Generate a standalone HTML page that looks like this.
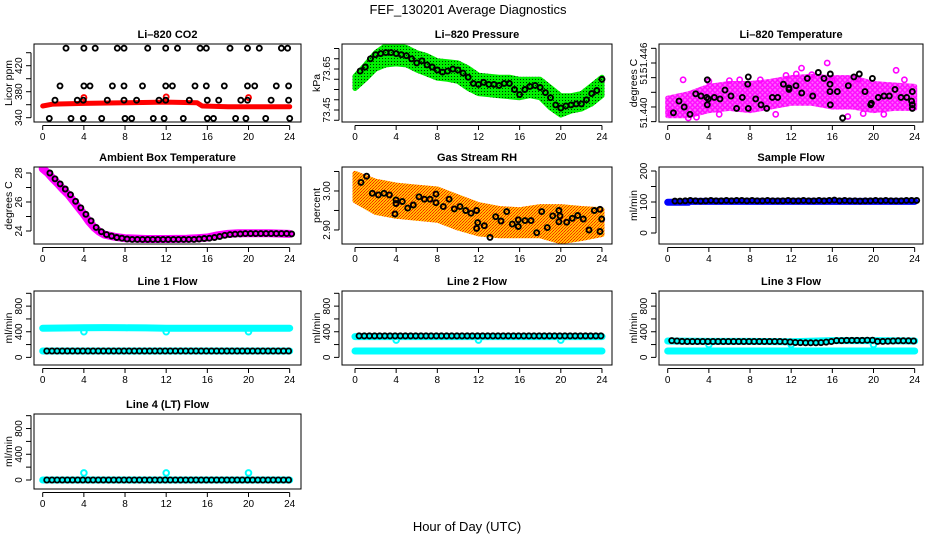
<!DOCTYPE html>
<html><head><meta charset="utf-8"><title>FEF_130201 Average Diagnostics</title>
<style>
html,body{margin:0;padding:0;background:#fff;}
svg{display:block;font-family:"Liberation Sans",Arial,sans-serif;}
</style></head>
<body>
<svg id="chart" width="936" height="540" viewBox="0 0 936 540" xmlns="http://www.w3.org/2000/svg">
<defs>
<pattern id="pGreen" width="3" height="3" patternUnits="userSpaceOnUse"><rect width="3" height="3" fill="#00ee00"/><rect x="1" y="1" width="1" height="1" fill="#003300"/></pattern>
<pattern id="pOrange" width="3" height="3" patternUnits="userSpaceOnUse"><rect width="3" height="3" fill="#ffc000"/><rect width="1" height="1" fill="#ff2000"/><rect x="2" y="1" width="1" height="1" fill="#ff4000"/><rect x="1" y="2" width="1" height="1" fill="#ff2000"/></pattern>
<pattern id="pMag" width="5" height="5" patternUnits="userSpaceOnUse"><rect width="5" height="5" fill="#ff66ff"/><circle cx="2.5" cy="2.5" r="1.8" fill="none" stroke="#ff00ff" stroke-width="1.3"/></pattern>
</defs>
<text x="468" y="14" font-size="13" text-anchor="middle">FEF_130201  Average Diagnostics</text>
<text x="467" y="531" font-size="13" text-anchor="middle">Hour of Day (UTC)</text>
</svg>
<script>
// ---- shared hours ----
const H48 = [0.5,1,1.5,2,2.5,3,3.5,4,4.5,5,5.5,6,6.5,7,7.5,8,8.5,9,9.5,10,10.5,11,11.5,12,12.5,13,13.5,14,14.5,15,15.5,16,16.5,17,17.5,18,18.5,19,19.5,20,20.5,21,21.5,22,22.5,23,23.5,24];
const xTicks = [0,4,8,12,16,20,24];

// ---- CO2 ----
const co2BandH = [0,1,4,8,12,15,15.5,18,20,24];
const co2BandV = [358,361,362,363,364,363,358,357,357,357];
const co2H = [2.26,4.0,5.1,7.25,7.9,10.2,11.95,13.1,15.3,15.9,18.2,19.9,21.05,23.2,23.8,
  1.68,4.0,4.6,6.77,7.9,9.7,11.95,12.6,14.8,15.9,17.65,19.9,20.6,22.7,23.9,
  1.2,3.36,3.95,6.28,7.9,9.13,11.3,11.95,14.25,16.0,17.1,19.25,19.9,22.2,23.9,
  0.64,2.75,3.95,5.73,8.0,8.65,10.75,11.8,13.66,16.0,16.6,18.75,19.75,21.67,24.0];
const co2V = [447,447,447,447,447,447,447,447,447,447,447,447,447,447,447,
  389,389,389,389,389,389,389,389,389,389,389,389,389,389,389,
  367,367,367,367,367,367,367,367,367,367,367,367,367,367,367,
  339,339,339,339,339,339,339,339,339,339,339,339,339,339,339];
const co2RedOutH = [4,12,20];
const co2RedOutV = [371,372,371];

// ---- Pressure ----
const presBandH = [0,1,2,3,4,5,6,7,8,9,10,11,12,13,14,15,16,17,18,19,20,21,22,23,24];
const presUpper = [73.615,73.67,73.73,73.765,73.765,73.755,73.73,73.715,73.69,73.685,73.68,73.655,73.62,73.615,73.61,73.61,73.6,73.6,73.6,73.56,73.52,73.52,73.53,73.57,73.61];
const presLower = [73.555,73.6,73.65,73.67,73.675,73.67,73.645,73.625,73.605,73.6,73.59,73.555,73.53,73.525,73.52,73.515,73.51,73.52,73.51,73.46,73.425,73.445,73.455,73.48,73.52];
const presV = [73.64,73.66,73.70,73.72,73.725,73.73,73.73,73.725,73.72,73.715,73.70,73.68,73.69,73.67,73.66,73.645,73.635,73.64,73.65,73.645,73.63,73.61,73.58,73.575,73.585,73.575,73.575,73.57,73.58,73.58,73.55,73.525,73.55,73.565,73.57,73.56,73.535,73.51,73.475,73.46,73.47,73.475,73.48,73.48,73.50,73.53,73.545,73.60];

// ---- Li-820 Temperature ----
const tempBandH = [0,2,4,6,8,10,12,14,16,18,20,22,24];
const tempUpper = [51.4412,51.4418,51.4428,51.4432,51.4432,51.4435,51.4440,51.4442,51.4440,51.4440,51.4432,51.4430,51.4428];
const tempLower = [51.4388,51.4388,51.4395,51.4398,51.4395,51.4400,51.4405,51.4405,51.4400,51.4400,51.4395,51.4398,51.4398];
const tempOutH = [1.5,13,15.5,22.2,16,11.5,4,10.5,2,0.3,7,18.5,21,2.8,5,9,14,19,23,6,12.5,17.5];
const tempOutV = [51.4437,51.4453,51.4460,51.4450,51.4436,51.4443,51.4435,51.4390,51.4385,51.4392,51.4437,51.4438,51.4390,51.4386,51.4390,51.4437,51.4444,51.4391,51.4437,51.4436,51.4445,51.4387];
const tempH = [0.55,1.1,1.6,2.17,2.72,3.24,3.79,3.85,3.95,3.85,4.53,5.08,5.57,6.15,6.7,7.25,7.77,7.83,7.83,8.55,9.07,9.62,10.17,10.69,11.24,11.79,11.79,12.47,13.02,13.57,14.09,14.64,15.19,15.77,15.77,15.8,15.8,16.48,17.0,17.55,18.1,18.62,19.17,19.73,19.8,19.89,20.47,21.02,21.54,22.09,22.67,23.23,23.77,23.77,23.77,23.7];
const tempV = [51.4392,51.4408,51.4400,51.4390,51.4418,51.4415,51.4413,51.4403,51.4411,51.4437,51.4413,51.4411,51.4423,51.4415,51.4398,51.4413,51.4431,51.4441,51.4398,51.4411,51.4403,51.4398,51.4413,51.4413,51.4431,51.4424,51.4426,51.4429,51.4419,51.4439,51.4415,51.4447,51.4439,51.4421,51.4431,51.4445,51.4403,51.4421,51.4385,51.4429,51.4441,51.4445,51.4421,51.4403,51.4405,51.4439,51.4413,51.4415,51.4415,51.4424,51.4413,51.4413,51.4403,51.4398,51.4421,51.4408];

// ---- Ambient ----
const ambBandH = [0,0.5,1,1.5,2,2.5,3,3.5,4,4.5,5,5.5,6,7,8,10,12,14,15,16,17,18,19,20,22,24];
const ambBandV = [28.3,28.0,27.6,27.25,26.85,26.5,26.05,25.6,25.15,24.65,24.25,23.95,23.75,23.6,23.5,23.45,23.45,23.47,23.5,23.55,23.7,23.8,23.85,23.85,23.85,23.8];
const ambV = [28.0,27.6,27.25,26.9,26.5,26.05,25.6,25.15,24.7,24.25,23.95,23.75,23.65,23.55,23.5,23.45,
  23.42,23.42,23.42,23.42,23.42,23.42,23.42,23.42,23.42,23.42,23.42,23.42,23.42,
  23.45,23.48,23.5,23.55,23.62,23.7,23.75,23.78,23.8,23.82,23.82,
  23.82,23.82,23.82,23.82,23.82,23.82,23.82,23.8];

// ---- RH ----
const rhBandH = [0,2,4,6,8,10,12,14,16,18,20,22,24];
const rhUpper = [3.045,3.025,3.015,3.01,3.005,2.985,2.965,2.955,2.952,2.96,2.96,2.955,2.952];
const rhLower = [2.975,2.945,2.935,2.93,2.925,2.905,2.89,2.885,2.885,2.885,2.87,2.878,2.888];
const rhH = [0.58,1.13,1.68,2.27,2.82,3.34,3.98,3.98,3.89,4.6,5.12,5.67,6.22,6.74,7.29,7.87,7.87,8.58,9.14,9.65,10.2,10.76,11.27,11.82,11.92,11.82,12.57,13.12,13.67,14.19,14.74,15.29,15.87,15.87,16.52,17.1,17.66,18.14,18.69,19.21,19.82,19.82,19.92,20.57,21.12,21.64,22.19,22.74,23.26,23.81,23.97,23.81];
const rhV = [3.022,3.038,2.994,2.990,2.994,2.990,2.977,2.968,2.941,2.973,2.956,2.964,2.985,2.979,2.979,2.992,2.970,2.960,2.979,2.954,2.960,2.950,2.943,2.950,2.919,2.904,2.911,2.881,2.934,2.923,2.947,2.915,2.926,2.909,2.924,2.924,2.893,2.947,2.906,2.936,2.921,2.950,2.936,2.920,2.930,2.937,2.928,2.900,2.950,2.953,2.928,2.896];

// ---- Sample flow ----
const sfBandH = [0,2,2.05,4,8,12,16,20,24];
const sfBandV = [99,99,102,102,102,102,102,102,102];
const sfV = [103,103,104,105,104,103,104,105,104,104,105,104,105,105,104,105,104,104,105,104,104,104,105,104,104,105,104,104,105,104,105,106,104,105,104,104,103,104,104,105,104,105,104,104,104,105,105,105];

// ---- Line flows ----
const l1CyanHiH = [0,2,4,6,8,10,12,14,16,18,20,22,24];
const l1CyanHiV = [455,458,462,465,462,460,456,455,455,455,455,455,455];
const l1CyanLoH = [0,24];
const l1CyanLoV = [100,100];
const l1OutH = [4,12,20];
const l1OutV = [400,400,400];
const l1V = [100,100,100,100,100,100,100,100,100,100,100,100,100,100,100,100,100,100,100,100,100,100,100,100,100,100,100,100,100,100,100,100,100,100,100,100,100,100,100,100,100,100,100,100,100,100,100,100];

const l2CyanHiH = [0,24];
const l2CyanHiV = [325,325];
const l2CyanLoH = [0,24];
const l2CyanLoV = [100,100];
const l2OutH = [4,12,20];
const l2OutV = [270,270,270];
const l2V = [335,335,335,335,335,335,335,335,335,335,335,335,335,335,335,335,335,335,335,335,335,335,335,335,335,335,335,335,335,335,335,335,335,335,335,335,335,335,335,335,335,335,335,335,335,335,335,335];

const l3CyanHiH = [0,4,8,12,16,20,24];
const l3CyanHiV = [255,250,250,245,262,262,255];
const l3CyanLoH = [0,24];
const l3CyanLoV = [100,100];
const l3OutH = [4,12,20];
const l3OutV = [200,200,200];
const l3V = [262,255,250,248,248,248,248,248,248,248,248,248,248,248,248,248,248,248,248,248,248,248,245,240,232,230,228,228,228,230,238,248,262,262,265,265,265,265,268,268,250,250,252,255,258,258,258,255];

const l4CyanLoH = [0,24];
const l4CyanLoV = [0,0];
const l4OutH = [4,12,20];
const l4OutV = [110,110,110];
const l4V = [0,0,0,0,0,0,0,0,0,0,0,0,0,0,0,0,0,0,0,0,0,0,0,0,0,0,0,0,0,0,0,0,0,0,0,0,0,0,0,0,0,0,0,0,0,0,0,0];

// ---- layout ----
const NS = 'http://www.w3.org/2000/svg';
const svg = document.getElementById('chart');
const BL = [34,342,659], BR = [301,612,923];
const BT = [44,167,291,414], BB = [122,244,365,489];
const X0 = [42.7,355,667.7];
const PXH = 10.29;

function el(tag, attrs, parent){
  const e = document.createElementNS(NS, tag);
  for (const k in attrs) e.setAttribute(k, attrs[k]);
  (parent||svg).appendChild(e);
  return e;
}

function makePanel(col,row,name,title,ylab,lo,hi,yTicks,yLabV,yLabT){
  const L=BL[col],R=BR[col],T=BT[row],B=BB[row];
  const g = el('g',{});
  
  
  const xs = h => X0[col] + h*PXH;
  const ys = v => B - (v-lo)/(hi-lo)*(B-T);
  const t = el('text',{x:(L+R)/2,y:T-6,'font-size':11,'font-weight':'bold','text-anchor':'middle'},g);
  t.textContent = title;
  
  
  const yl = el('text',{x:L-22,y:(T+B)/2,'font-size':10.5,'text-anchor':'middle',transform:`rotate(-90 ${L-22} ${(T+B)/2})`},g);
  yl.textContent = ylab;
  
  
  const xa = el('g',{stroke:'#000','stroke-width':1},g);
  
  
  el('line',{x1:xs(xTicks[0]),x2:xs(xTicks[xTicks.length-1]),y1:B+3.5,y2:B+3.5},xa);
  xTicks.forEach(h=>{
    el('line',{x1:xs(h),x2:xs(h),y1:B+3.5,y2:B+8},xa);
    const tl = el('text',{x:xs(h),y:B+18,'font-size':10,'text-anchor':'middle',stroke:'none'},g);
    tl.textContent = h;
    
    
  });
  const ya = el('g',{stroke:'#000','stroke-width':1},g);
  
  
  el('line',{x1:L-3,x2:L-3,y1:ys(yTicks[0]),y2:ys(yTicks[yTicks.length-1])},ya);
  yTicks.forEach(v=>{ el('line',{x1:L-3,x2:L-8,y1:ys(v),y2:ys(v)},ya); });
  yLabV.forEach((v,i)=>{
    const yy = ys(v);
    const tl = el('text',{x:L-12,y:yy,'font-size':10,'text-anchor':'middle',transform:`rotate(-90 ${L-12} ${yy})`},g);
    tl.textContent = yLabT[i];
    
    
  });
  const clip = 'clip-'+name;
  const cp = el('clipPath',{id:clip},g);
  el('rect',{x:L,y:T,width:R-L,height:B-T},cp);
  const plot = el('g',{'clip-path':`url(#${clip})`},g);
  
  
  const box = el('rect',{x:L,y:T,width:R-L,height:B-T,fill:'none',stroke:'#000','stroke-width':1},g);
  
  
  return {xs,ys,plot,name};
}

function band(p,hs,up,lowv,fill,nm){
  let d='';
  hs.forEach((h,i)=>{ d += (i?'L':'M')+p.xs(h).toFixed(1)+','+p.ys(up[i]).toFixed(1); });
  for(let i=hs.length-1;i>=0;i--) d += 'L'+p.xs(hs[i]).toFixed(1)+','+p.ys(lowv[i]).toFixed(1);
  const e = el('path',{d:d+'Z',fill:fill,stroke:fill,'stroke-width':5,'stroke-linejoin':'round'},p.plot);
  
  
}
function thick(p,hs,vs,color,w,nm){
  const pts = hs.map((h,i)=>p.xs(h).toFixed(1)+','+p.ys(vs[i]).toFixed(1)).join(' ');
  const e = el('polyline',{points:pts,fill:'none',stroke:color,'stroke-width':w,'stroke-linecap':'round','stroke-linejoin':'round'},p.plot);
  
  
}
function dots(p,hs,vs,color,nm,r,sw){
  const g = el('g',{fill:'none',stroke:color,'stroke-width':sw||1.9},p.plot);
  
  
  hs.forEach((h,i)=>{
    const c = el('circle',{cx:p.xs(h).toFixed(1),cy:p.ys(vs[i]).toFixed(1),r:r||2.5},g);
    
    
  });
}

let p = makePanel(0,0,'co2','Li\u2013820 CO2','Licor ppm',333.4,453.4,[340,360,380,400,420,440],[340,380,420],['340','380','420']);
thick(p,co2BandH,co2BandV,'#ff0000',5,'co2-red-series');
dots(p,co2RedOutH,co2RedOutV,'#ff0000','co2-red-outliers');
dots(p,co2H,co2V,'#000','co2-black-points');

p = makePanel(1,0,'pressure','Li\u2013820 Pressure','kPa',73.3915,73.772,[73.40,73.45,73.50,73.55,73.60,73.65,73.70,73.75],[73.45,73.65],['73.45','73.65']);
band(p,presBandH,presUpper,presLower,'url(#pGreen)','pressure-green-band');
dots(p,H48,presV,'#000','pressure-black-points');

p = makePanel(2,0,'temperature','Li\u2013820 Temperature','degrees C',51.43795,51.44859,[51.438,51.440,51.442,51.444,51.446,51.448],[51.4392,51.444,51.4467],['51.440','51.','51.446']);
band(p,tempBandH,tempUpper,tempLower,'url(#pMag)','temperature-magenta-band');
dots(p,tempOutH,tempOutV,'#ff00ff','temperature-magenta-outliers',2.6,1.6);
dots(p,tempH,tempV,'#000','temperature-black-points');

p = makePanel(0,1,'ambient','Ambient Box Temperature','degrees C',23.103,28.414,[24,25,26,27,28],[24,26,28],['24','26','28']);
thick(p,ambBandH,ambBandV,'#ff00ff',8,'ambient-magenta-series');
dots(p,H48.map(h=>h+0.2),ambV,'#000','ambient-black-points');

p = makePanel(1,1,'rh','Gas Stream RH','percent',2.864,3.0615,[2.90,2.95,3.00,3.05],[2.90,3.00],['2.90','3.00']);
band(p,rhBandH,rhUpper,rhLower,'url(#pOrange)','rh-orange-band');
dots(p,rhH,rhV,'#000','rh-black-points');

p = makePanel(2,1,'sample-flow','Sample Flow','ml/min',-35.5,212.9,[0,50,100,150,200],[0,100,200],['0','100','200']);
thick(p,sfBandH,sfBandV,'#0000ff',7,'sample-flow-blue-series');
dots(p,H48.map(h=>h+0.2),sfV,'#000','sample-flow-black-points');

const flowTicks=[0,200,400,600,800,1000];
p = makePanel(0,2,'line1-flow','Line 1 Flow','ml/min',-119,1036,flowTicks,[0,400,800],['0','400','800']);
thick(p,l1CyanHiH,l1CyanHiV,'#00ffff',7,'line1-cyan-upper');
thick(p,l1CyanLoH,l1CyanLoV,'#00ffff',7,'line1-cyan-lower');
dots(p,l1OutH,l1OutV,'#00ffff','line1-cyan-outliers',2.8,2);
dots(p,H48.map(h=>h-0.1),l1V,'#000','line1-black-points',2.6,1.8);

p = makePanel(1,2,'line2-flow','Line 2 Flow','ml/min',-119,1036,flowTicks,[0,400,800],['0','400','800']);
thick(p,l2CyanHiH,l2CyanHiV,'#00ffff',7,'line2-cyan-upper');
thick(p,l2CyanLoH,l2CyanLoV,'#00ffff',7,'line2-cyan-lower');
dots(p,l2OutH,l2OutV,'#00ffff','line2-cyan-outliers',2.8,2);
dots(p,H48.map(h=>h-0.1),l2V,'#000','line2-black-points',2.6,1.8);

p = makePanel(2,2,'line3-flow','Line 3 Flow','ml/min',-119,1036,flowTicks,[0,400,800],['0','400','800']);
thick(p,l3CyanHiH,l3CyanHiV,'#00ffff',7,'line3-cyan-upper');
thick(p,l3CyanLoH,l3CyanLoV,'#00ffff',7,'line3-cyan-lower');
dots(p,l3OutH,l3OutV,'#00ffff','line3-cyan-outliers',2.8,2);
dots(p,H48.map(h=>h-0.1),l3V,'#000','line3-black-points',2.6,1.8);

p = makePanel(0,3,'line4-flow','Line 4 (LT) Flow','ml/min',-140,1026,flowTicks,[0,400,800],['0','400','800']);
thick(p,l4CyanLoH,l4CyanLoV,'#00ffff',7,'line4-cyan-series');
dots(p,l4OutH,l4OutV,'#00ffff','line4-cyan-outliers',2.8,2);
dots(p,H48.map(h=>h-0.1),l4V,'#000','line4-black-points',2.6,1.8);
</script>
</body></html>
